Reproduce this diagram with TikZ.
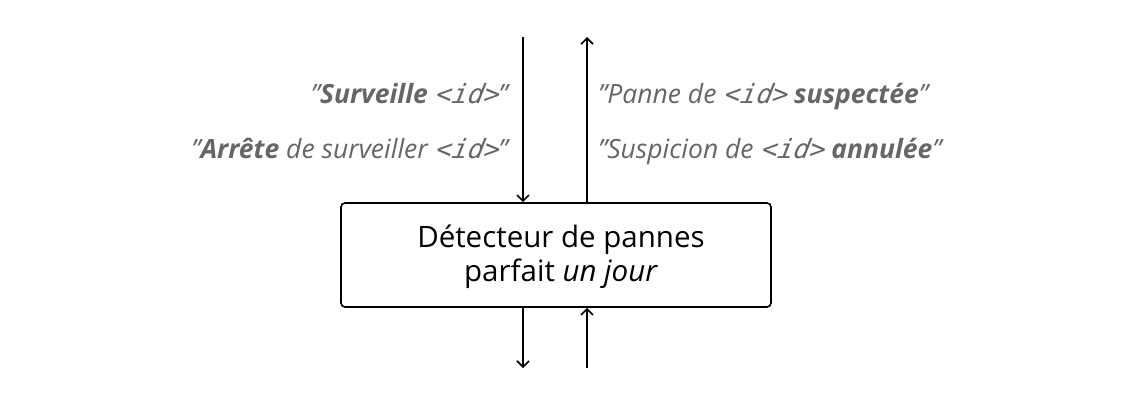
\documentclass[tikz,border=0pt]{standalone}
\usepackage{fontspec}
\setmainfont{Open Sans}
\newfontfamily\monoslant[FakeSlant=0.2]{DejaVu Sans Mono}
\usetikzlibrary{arrows.meta}
\definecolor{labgray}{HTML}{666666}
\tikzset{
  flow/.style={line width=1.6bp,-{Straight Barb[length=6bp,width=12bp,line width=1.6bp]}},
  lab/.style={text=labgray,font=\fontsize{26.5bp}{30bp}\selectfont\itshape,inner sep=0pt},
  mainbox/.style={draw,line width=1.6bp,rounded corners=4bp,minimum width=430bp,minimum height=104bp},
  boxtext/.style={align=center,font=\fontsize{29.5bp}{34bp}\selectfont,inner sep=0pt}
}
\newcommand{\ident}{{\monoslant <id>}}
\newcommand{\qt}{\char"22\relax}
\begin{document}
\begin{tikzpicture}[x=1bp,y=-1bp]
\useasboundingbox (0,0) rectangle (1137,412);
\node[mainbox] (box) at (556,255) {};
\node[boxtext,anchor=base] (boxtext) at (561,281) {Détecteur de pannes\\parfait \textit{un jour}};
\coordinate (inTop) at (523,37);
\coordinate (outTop) at (587,37);
\coordinate (inBot) at (523,368);
\coordinate (outBot) at (587,368);
\draw[flow] (inTop) -- (inTop |- box.north);
\draw[flow] (outTop |- box.north) -- (outTop);
\draw[flow] (inBot |- box.south) -- (inBot);
\draw[flow] (outBot) -- (outBot |- box.south);
\node[lab,anchor=base east] (l1) at (508,103) {\qt\textbf{Surveille} \ident\qt};
\node[lab,anchor=base east] (l2) at (508,158) {\qt\textbf{Arrête} de surveiller \ident\qt};
\node[lab,anchor=base west] (r1) at (598,103) {\qt Panne de \ident\ \textbf{suspectée}\qt};
\node[lab,anchor=base west] (r2) at (598,158) {\qt Suspicion de \ident\ \textbf{annulée}\qt};
\end{tikzpicture}
\end{document}
